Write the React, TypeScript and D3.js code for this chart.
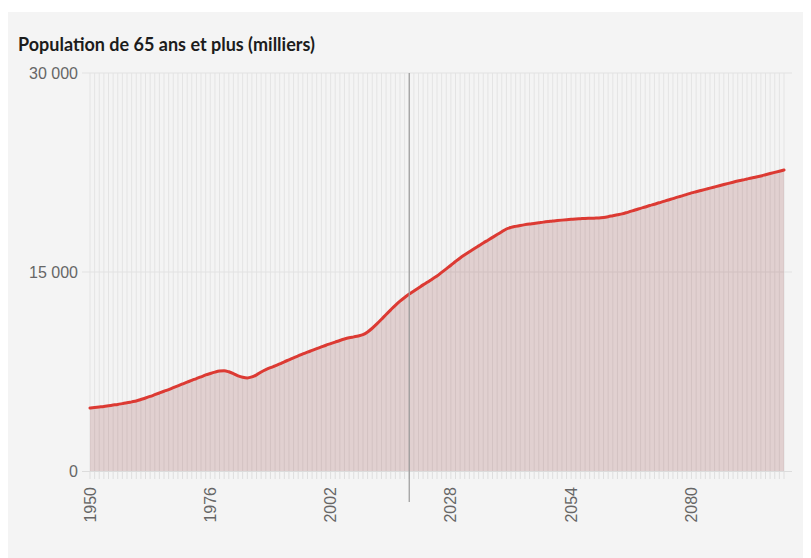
import * as d3 from "d3"
import { useRef, useEffect } from "react"

const title = "Population de 65 ans et plus (milliers)"
const firstYear = 1950
const lastYear = 2100
const markerYear = 2019
const yTicks = [0, 15000, 30000]
const xTickYears = [1950, 1976, 2002, 2028, 2054, 2080]

// one value per year, 1950 -> 2100 (thousands)
const values = [
  4750, 4790, 4830, 4870, 4920, 4970, 5020, 5080, 5140, 5210,
  5280, 5390, 5500, 5620, 5750, 5880, 6010, 6140, 6280, 6420,
  6560, 6700, 6830, 6970, 7100, 7240, 7350, 7450, 7530, 7560,
  7480, 7340, 7170, 7060, 7010, 7090, 7250, 7460, 7640, 7790,
  7920, 8070, 8230, 8380, 8530, 8670, 8820, 8960, 9090, 9220,
  9350, 9480, 9600, 9720, 9840, 9950, 10040, 10110, 10180, 10280,
  10480, 10760, 11090, 11440, 11800, 12150, 12490, 12800, 13080, 13340,
  13570, 13800, 14030, 14250, 14480, 14700, 14970, 15240, 15510, 15790,
  16060, 16300, 16530, 16750, 16970, 17190, 17400, 17610, 17820, 18030,
  18240, 18360, 18440, 18510, 18570, 18620, 18660, 18710, 18760, 18800,
  18850, 18880, 18910, 18940, 18970, 19000, 19020, 19040, 19050, 19060,
  19070, 19110, 19170, 19240, 19310, 19380, 19480, 19590, 19690, 19800,
  19900, 20010, 20110, 20220, 20320, 20430, 20530, 20640, 20740, 20850,
  20960, 21050, 21140, 21230, 21320, 21410, 21500, 21590, 21680, 21770,
  21860, 21930, 22010, 22090, 22160, 22240, 22330, 22420, 22510, 22600,
  22690,
]

const years = values.map((_, i) => firstYear + i)

const App = () => {
  const ref = useRef<SVGSVGElement>(null)
  const width = 803
  const height = 546
  const left = 82
  const right = 776
  const top = 61
  const bottom = 459

  useEffect(() => {
    const svg = d3.select(ref.current)
    svg.selectAll("*").remove()

    svg.append("rect").attr("width", width).attr("height", height).attr("fill", "#f4f4f4")

    // title
    svg
      .append("text")
      .attr("x", 10)
      .attr("y", 39)
      .attr("font-family", "Lato, sans-serif")
      .attr("font-weight", 700)
      .attr("font-size", "18px")
      .attr("fill", "#1c1c1c")
      .text(title)

    const x = d3.scaleLinear().domain([firstYear, lastYear]).range([left, right])
    const y = d3.scaleLinear().domain([0, 30000]).range([bottom, top])

    // vertical grid, one per year
    svg
      .append("g")
      .selectAll("line")
      .data(years)
      .join("line")
      .attr("x1", (d) => x(d))
      .attr("x2", (d) => x(d))
      .attr("y1", top)
      .attr("y2", bottom)
      .attr("stroke", "#e4e4e4")
      .attr("stroke-width", 1)

    // horizontal grid
    svg
      .append("g")
      .selectAll("line")
      .data(yTicks.slice(1))
      .join("line")
      .attr("x1", left - 8)
      .attr("x2", right + 8)
      .attr("y1", (d) => y(d))
      .attr("y2", (d) => y(d))
      .attr("stroke", "#e2e2e2")

    // y labels
    svg
      .append("g")
      .selectAll("text")
      .data(yTicks)
      .join("text")
      .attr("x", left - 12)
      .attr("y", (d) => y(d))
      .attr("dy", "0.35em")
      .attr("text-anchor", "end")
      .attr("font-family", "'Liberation Sans', Arial, sans-serif")
      .attr("font-size", "16px")
      .attr("fill", "#666")
      .text((d) => d3.format(",")(d).replace(",", " "))

    // area + line
    const area = d3
      .area<number>()
      .x((_, i) => x(years[i]))
      .y0(y(0))
      .y1((d) => y(d))
      .curve(d3.curveMonotoneX)
    svg
      .append("path")
      .datum(values)
      .attr("d", area)
      .attr("fill", "#8c2a2a")
      .attr("fill-opacity", 0.18)

    const line = d3
      .line<number>()
      .x((_, i) => x(years[i]))
      .y((d) => y(d))
      .curve(d3.curveMonotoneX)
    svg
      .append("path")
      .datum(values)
      .attr("d", line)
      .attr("fill", "none")
      .attr("stroke", "#dc3a33")
      .attr("stroke-width", 3)
      .attr("stroke-linejoin", "round")
      .attr("stroke-linecap", "round")

    // x axis baseline
    svg
      .append("line")
      .attr("x1", left - 8)
      .attr("x2", right + 8)
      .attr("y1", bottom + 0.5)
      .attr("y2", bottom + 0.5)
      .attr("stroke", "#dcdcdc")

    // minor ticks
    svg
      .append("g")
      .selectAll("line")
      .data(years)
      .join("line")
      .attr("x1", (d) => x(d))
      .attr("x2", (d) => x(d))
      .attr("y1", bottom + 1)
      .attr("y2", bottom + 8)
      .attr("stroke", "#dedede")

    // x labels
    svg
      .append("g")
      .selectAll("text")
      .data(xTickYears)
      .join("text")
      .attr("transform", (d) => `translate(${x(d)}, ${bottom + 16}) rotate(-90)`)
      .attr("dy", "0.35em")
      .attr("text-anchor", "end")
      .attr("font-family", "'Liberation Sans', Arial, sans-serif")
      .attr("font-size", "16px")
      .attr("fill", "#666")
      .text((d) => d)

    // current year marker
    svg
      .append("line")
      .attr("x1", x(markerYear))
      .attr("x2", x(markerYear))
      .attr("y1", top)
      .attr("y2", bottom + 31)
      .attr("stroke", "#9a9a9a")
      .attr("stroke-width", 1.2)
  }, [])

  return (
    <div style={{ paddingTop: 4 }}>
      <svg ref={ref} width={width} height={height} style={{ display: "block" }}></svg>
    </div>
  )
}

export default App
